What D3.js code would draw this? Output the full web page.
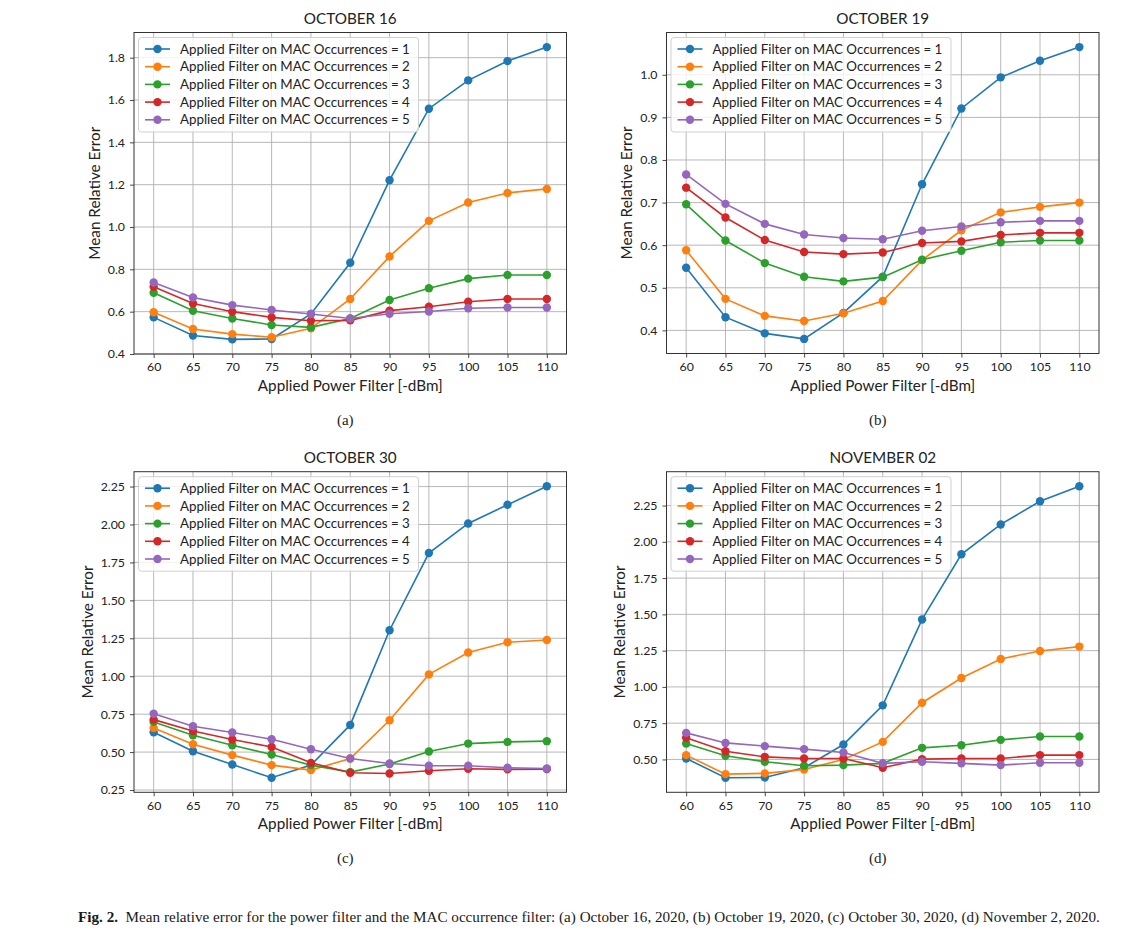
<!DOCTYPE html>
<html><head><meta charset="utf-8">
<script src="https://cdn.jsdelivr.net/npm/d3@7"></script>
<style>
body{margin:0;background:#fff;}
svg{display:block;}
</style></head>
<body>
<svg id="chart" width="1141" height="952"></svg>
<script>
// ---------- DATA ----------
const powerFilter = [60, 65, 70, 75, 80, 85, 90, 95, 100, 105, 110];
const seriesLabels = [
  "Applied Filter on MAC Occurrences = 1",
  "Applied Filter on MAC Occurrences = 2",
  "Applied Filter on MAC Occurrences = 3",
  "Applied Filter on MAC Occurrences = 4",
  "Applied Filter on MAC Occurrences = 5"
];
const seriesColors = ["#1f77b4", "#ff7f0e", "#2ca02c", "#d62728", "#9467bd"];

// October 16
const oct16_occ1 = [0.573, 0.487, 0.469, 0.471, 0.589, 0.831, 1.221, 1.559, 1.693, 1.784, 1.850];
const oct16_occ2 = [0.597, 0.518, 0.494, 0.479, 0.521, 0.660, 0.861, 1.029, 1.116, 1.161, 1.180];
const oct16_occ3 = [0.689, 0.604, 0.568, 0.537, 0.526, 0.568, 0.655, 0.711, 0.756, 0.773, 0.773];
const oct16_occ4 = [0.718, 0.639, 0.600, 0.573, 0.557, 0.559, 0.605, 0.623, 0.647, 0.660, 0.660];
const oct16_occ5 = [0.738, 0.667, 0.631, 0.608, 0.589, 0.568, 0.590, 0.601, 0.616, 0.620, 0.620];

// October 19
const oct19_occ1 = [0.547, 0.431, 0.393, 0.380, 0.441, 0.526, 0.743, 0.921, 0.994, 1.033, 1.065];
const oct19_occ2 = [0.588, 0.474, 0.434, 0.422, 0.440, 0.469, 0.565, 0.635, 0.677, 0.690, 0.700];
const oct19_occ3 = [0.696, 0.611, 0.558, 0.526, 0.515, 0.525, 0.566, 0.587, 0.607, 0.611, 0.611];
const oct19_occ4 = [0.735, 0.665, 0.612, 0.584, 0.579, 0.583, 0.605, 0.609, 0.624, 0.629, 0.629];
const oct19_occ5 = [0.766, 0.697, 0.650, 0.625, 0.617, 0.614, 0.634, 0.644, 0.654, 0.657, 0.657];

// October 30
const oct30_occ1 = [0.631, 0.506, 0.418, 0.331, 0.414, 0.679, 1.303, 1.812, 2.007, 2.130, 2.252];
const oct30_occ2 = [0.659, 0.552, 0.480, 0.414, 0.381, 0.458, 0.710, 1.012, 1.156, 1.224, 1.239];
const oct30_occ3 = [0.699, 0.611, 0.545, 0.484, 0.414, 0.368, 0.421, 0.504, 0.556, 0.567, 0.572];
const oct30_occ4 = [0.714, 0.639, 0.583, 0.534, 0.429, 0.364, 0.359, 0.377, 0.390, 0.386, 0.388];
const oct30_occ5 = [0.753, 0.670, 0.629, 0.585, 0.519, 0.458, 0.425, 0.410, 0.410, 0.397, 0.392];

// November 02
const nov02_occ1 = [0.507, 0.374, 0.376, 0.443, 0.603, 0.873, 1.465, 1.914, 2.120, 2.280, 2.383];
const nov02_occ2 = [0.530, 0.399, 0.404, 0.431, 0.500, 0.621, 0.891, 1.061, 1.193, 1.248, 1.278];
const nov02_occ3 = [0.610, 0.525, 0.484, 0.457, 0.461, 0.473, 0.580, 0.598, 0.635, 0.658, 0.658];
const nov02_occ4 = [0.649, 0.557, 0.518, 0.507, 0.507, 0.443, 0.502, 0.507, 0.507, 0.530, 0.530];
const nov02_occ5 = [0.683, 0.614, 0.592, 0.571, 0.548, 0.473, 0.484, 0.473, 0.461, 0.477, 0.477];

const ticksA = [0.4, 0.6, 0.8, 1.0, 1.2, 1.4, 1.6, 1.8];
const ticksB = [0.4, 0.5, 0.6, 0.7, 0.8, 0.9, 1.0];
const ticksC = [0.25, 0.50, 0.75, 1.00, 1.25, 1.50, 1.75, 2.00, 2.25];
const ticksD = [0.50, 0.75, 1.00, 1.25, 1.50, 1.75, 2.00, 2.25];

const panelTitles = ["OCTOBER 16", "OCTOBER 19", "OCTOBER 30", "NOVEMBER 02"];
const subLabels = ["(a)", "(b)", "(c)", "(d)"];
const xLabel = "Applied Power Filter [-dBm]";
const yLabel = "Mean Relative Error";
const captionBold = "Fig. 2.";
const captionText = "  Mean relative error for the power filter and the MAC occurrence filter: (a) October 16, 2020, (b) October 19, 2020, (c) October 30, 2020, (d) November 2, 2020.";

// ---------- LAYOUT ----------
const panels = [
  {series:[oct16_occ1,oct16_occ2,oct16_occ3,oct16_occ4,oct16_occ5], ticks:ticksA, fmt:".1f", left:134, top:32.5, w:432.5, h:321.5},
  {series:[oct19_occ1,oct19_occ2,oct19_occ3,oct19_occ4,oct19_occ5], ticks:ticksB, fmt:".1f", left:666.5, top:32.5, w:432.5, h:321},
  {series:[oct30_occ1,oct30_occ2,oct30_occ3,oct30_occ4,oct30_occ5], ticks:ticksC, fmt:".2f", left:134, top:471.7, w:432.5, h:320.6},
  {series:[nov02_occ1,nov02_occ2,nov02_occ3,nov02_occ4,nov02_occ5], ticks:ticksD, fmt:".2f", left:666.5, top:471.7, w:432.5, h:320.6}
];

const svg = d3.select("#chart");
const FONT = "Lato, 'Open Sans', sans-serif";

// measure helper: font size that makes a string a given width
const probe = svg.append("text").style("font-family", FONT).style("font-size", "20px").attr("x", -1000).attr("y", -1000);
function fitSize(str, width) {
  probe.text(str);
  return 20 * width / probe.node().getComputedTextLength();
}
const legendSize = fitSize(seriesLabels[0], 230);
const titleSize = fitSize(panelTitles[0], 93);
const xLabelSize = fitSize(xLabel, 185);
const yLabelSize = fitSize(yLabel, 133);
const tickSize = 12.3;
probe.remove();

panels.forEach((p, pi) => {
  const g = svg.append("g").attr("transform", `translate(${p.left},${p.top})`);
  // matplotlib-style 5% margins
  const xMin = d3.min(powerFilter), xMax = d3.max(powerFilter);
  const xPad = (xMax - xMin) * 0.05;
  const all = p.series.flat();
  const yMin = d3.min(all), yMax = d3.max(all);
  const yPad = (yMax - yMin) * 0.05;
  const x = d3.scaleLinear().domain([xMin - xPad, xMax + xPad]).range([0, p.w]);
  const y = d3.scaleLinear().domain([yMin - yPad, yMax + yPad]).range([p.h, 0]);

  // grid
  g.append("g").selectAll("line").data(powerFilter).join("line")
    .attr("x1", d => x(d)).attr("x2", d => x(d)).attr("y1", 0).attr("y2", p.h)
    .attr("stroke", "#b0b0b0").attr("stroke-width", 0.9);
  g.append("g").selectAll("line").data(p.ticks).join("line")
    .attr("x1", 0).attr("x2", p.w).attr("y1", d => y(d)).attr("y2", d => y(d))
    .attr("stroke", "#b0b0b0").attr("stroke-width", 0.9);

  // axes
  const xAxis = g.append("g").attr("transform", `translate(0,${p.h})`)
    .call(d3.axisBottom(x).tickValues(powerFilter).tickSize(4).tickPadding(4.5).tickFormat(d3.format("d")));
  const yAxis = g.append("g")
    .call(d3.axisLeft(y).tickValues(p.ticks).tickSize(4).tickPadding(5).tickFormat(d3.format(p.fmt)));
  [xAxis, yAxis].forEach(a => {
    a.select(".domain").remove();
    a.selectAll(".tick line").attr("stroke", "#333").attr("stroke-width", 0.9);
    a.selectAll(".tick text").attr("fill", "#222").style("font-family", FONT).style("font-size", tickSize + "px");
  });
  let maxTickW = 0;
  yAxis.selectAll(".tick text").each(function () { maxTickW = Math.max(maxTickW, this.getComputedTextLength()); });

  // lines + markers
  const line = d3.line().x((d, i) => x(powerFilter[i])).y(d => y(d));
  p.series.forEach((s, si) => {
    g.append("path").datum(s).attr("d", line).attr("fill", "none")
      .attr("stroke", seriesColors[si]).attr("stroke-width", 1.6);
    g.append("g").selectAll("circle").data(s).join("circle")
      .attr("cx", (d, i) => x(powerFilter[i])).attr("cy", d => y(d)).attr("r", 4.2)
      .attr("fill", seriesColors[si]);
  });

  // frame
  g.append("rect").attr("width", p.w).attr("height", p.h)
    .attr("fill", "none").attr("stroke", "#333").attr("stroke-width", 1);

  // legend
  const lg = g.append("g").attr("transform", "translate(4.5,5)");
  lg.append("rect").attr("width", 280).attr("height", 94.5).attr("rx", 3)
    .attr("fill", "#fff").attr("fill-opacity", 0.8).attr("stroke", "#cccccc").attr("stroke-width", 0.9);
  seriesLabels.forEach((lab, si) => {
    const cy = 11.5 + si * 17.7;
    lg.append("line").attr("x1", 6.5).attr("x2", 31.5).attr("y1", cy).attr("y2", cy)
      .attr("stroke", seriesColors[si]).attr("stroke-width", 1.6);
    lg.append("circle").attr("cx", 19).attr("cy", cy).attr("r", 4.2).attr("fill", seriesColors[si]);
    lg.append("text").attr("x", 41.5).attr("y", cy).attr("dy", "0.35em")
      .style("font-family", FONT).style("font-size", legendSize + "px").attr("fill", "#222").text(lab);
  });

  // title
  g.append("text").attr("x", p.w / 2).attr("y", -8.5).attr("text-anchor", "middle")
    .style("font-family", FONT).style("font-size", titleSize + "px").attr("fill", "#222").text(panelTitles[pi]);
  // axis labels
  g.append("text").attr("x", p.w / 2).attr("y", p.h + 37).attr("text-anchor", "middle")
    .style("font-family", FONT).style("font-size", xLabelSize + "px").attr("fill", "#222").text(xLabel);
  g.append("text").attr("transform", `translate(${-(maxTickW + 9 + 13.5)},${p.h / 2}) rotate(-90)`)
    .attr("text-anchor", "middle").attr("dy", "0.35em")
    .style("font-family", FONT).style("font-size", yLabelSize + "px").attr("fill", "#222").text(yLabel);
  // sub-label
  g.append("text").attr("x", p.w / 2 - 5).attr("y", p.h + 71).attr("text-anchor", "middle")
    .style("font-family", "'Liberation Serif', 'Times New Roman', serif").style("font-size", "15px")
    .attr("fill", "#222").text(subLabels[pi]);
});

// caption
const cap = svg.append("text").attr("x", 78).attr("y", 922)
  .style("font-family", "'Liberation Serif', 'Times New Roman', serif").style("font-size", "12px").attr("fill", "#1a1a1a");
cap.append("tspan").style("font-weight", "bold").text(captionBold);
cap.append("tspan").attr("xml:space", "preserve").text(captionText);
const capW = cap.node().getComputedTextLength();
cap.style("font-size", (12 * 1022 / capW).toFixed(2) + "px");
</script>
</body></html>
